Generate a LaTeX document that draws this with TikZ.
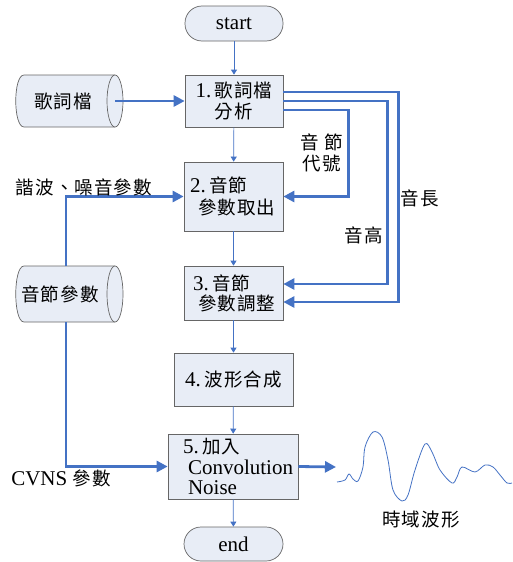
\documentclass[tikz,border=0pt]{standalone}
\usepackage{fontspec}
\setmainfont{Liberation Serif}
\newfontfamily\zhfont[LetterSpace=6]{Noto Sans CJK TC}
\newcommand\zh[1]{{\zhfont\fontsize{18.5}{22}\selectfont #1}}
\usetikzlibrary{arrows.meta}
\definecolor{boxfill}{HTML}{E8EDF6}
\definecolor{boxline}{HTML}{666666}
\definecolor{linkblue}{HTML}{4472C4}
\begin{document}
\begin{tikzpicture}[x=1pt,y=-1pt,
  box/.style={draw=boxline, fill=boxfill, line width=0.7pt, inner sep=0pt,
    font=\fontsize{21}{22}\selectfont},
  term/.style={box, rounded corners=17pt},
  thinarrow/.style={draw=linkblue, line width=0.7pt, -{Triangle[length=5pt,width=6pt]}},
  thickarrow/.style={draw=linkblue, line width=2.8pt, -{Triangle[length=11pt,width=11pt]}},
  lbl/.style={inner sep=0pt, font=\fontsize{21}{22}\selectfont},
  cyl/.style={draw=boxline, fill=boxfill, line width=0.7pt}]
\useasboundingbox (0,0) rectangle (512,562);

% terminals and process boxes
\node[term, minimum width=98pt, minimum height=35pt] (s) at (234,23.5) {start};
\node[box, minimum width=98pt, minimum height=52pt, align=center] (b1) at (234,101)
  {1.\,\zh{歌詞檔}\\[-1pt]\zh{分析}};
\node[box, minimum width=99pt, minimum height=69pt, inner xsep=6pt, text width=87pt, align=left] (b2) at (233.5,196.5)
  {2.\,\zh{音節}\\[0pt]\hspace*{8pt}\zh{參數取出}};
\node[box, minimum width=99pt, minimum height=54pt, inner xsep=9pt, text width=81pt, align=left] (b3) at (233.5,293)
  {3.\,\zh{音節}\\[-2pt]\hspace*{5pt}\zh{參數調整}};
\node[box, minimum width=119pt, minimum height=53pt, align=center] (b4) at (233.5,379.5)
  {4.\,\zh{波形合成}};
\node[box, minimum width=130pt, minimum height=65pt, inner xsep=15pt, text width=100pt, align=left,
  font=\fontsize{21}{20.5}\selectfont] (b5) at (233,466.5)
  {5.\,\zh{加入}\\\hspace*{5pt}\mbox{Convolution}\\\hspace*{5pt}\mbox{Noise}};
\node[term, minimum width=99pt, minimum height=34pt] (e) at (233.5,544) {end};

% cylinders (data stores)
\path[cyl, draw=none] (24,75) -- (115,75) -- (115,127) -- (24,127) .. controls (13,127) and (13,75) .. (24,75) -- cycle;
\draw[boxline, line width=0.7pt] (115,75) -- (24,75) .. controls (13,75) and (13,127) .. (24,127) -- (115,127);
\draw[cyl] (115,101) ellipse [x radius=8, y radius=26];
\coordinate (c1end) at (115,101);
\node[lbl] (c1) at (63,101) {\zh{歌詞檔}};

\path[cyl, draw=none] (24,266) -- (115,266) -- (115,322) -- (24,322) .. controls (13,322) and (13,266) .. (24,266) -- cycle;
\draw[boxline, line width=0.7pt] (115,266) -- (24,266) .. controls (13,266) and (13,322) .. (24,322) -- (115,322);
\draw[cyl] (115,294) ellipse [x radius=8, y radius=28];
\coordinate (c2top) at (66,266);
\coordinate (c2bot) at (66,322);
\node[lbl] (c2) at (60,294) {\zh{音節參數}};

% main flow
\draw[thinarrow] (s) -- (b1);
\draw[thinarrow] (b1) -- (b2);
\draw[thinarrow] (b2) -- (b3);
\draw[thinarrow] (b3) -- (b4);
\draw[thinarrow] (b4) -- (b5);
\draw[thinarrow] (b5) -- (e);

% data inputs
\draw[thickarrow] (c1end) -- (b1.west);
\draw[thickarrow] (c2top) |- (b2.west);
\draw[thickarrow] (c2bot) |- (b5.west);

% outputs of step 1
\draw[thickarrow] ([yshift=-9pt]b1.east) -- ++(65,0) |- (b2.east);
\draw[thickarrow] (b1.east) -- ++(104,0) |- ([yshift=9pt]b3.east);
\draw[thickarrow] ([yshift=9pt]b1.east) -- ++(115,0) |- ([yshift=-9pt]b3.east);

% output waveform
\coordinate (w0) at (336,467);
\draw[thickarrow] (b5.east) -- (w0);
\draw[linkblue, line width=0.8pt] plot[smooth, tension=0.55] coordinates {
  (337,482) (345,480) (349,474) (353,479) (358,481) (363,467) (365,447)
  (373,432) (382,437) (388,460) (393,490) (402,501) (408,495) (415,470)
  (425,444) (432,452) (440,470) (452,483) (457,477) (462,467) (475,472)
  (485,465) (493,467) (500,475) (507,483) (512,483)};

% labels
\node[lbl] (l1) at (84,187) {\zh{諧波、噪音參數}};
\node[lbl, align=center] (l2) at (322,153) {\zh{音 節}\\[-1pt]\zh{代號}};
\node[lbl] (l3) at (364,235) {\zh{音高}};
\node[lbl] (l4) at (420,198) {\zh{音長}};
\node[lbl] (l5) at (61,478) {CVNS \zh{參數}};
\node[lbl] (l6) at (421,520) {\zh{時域波形}};
\end{tikzpicture}
\end{document}
